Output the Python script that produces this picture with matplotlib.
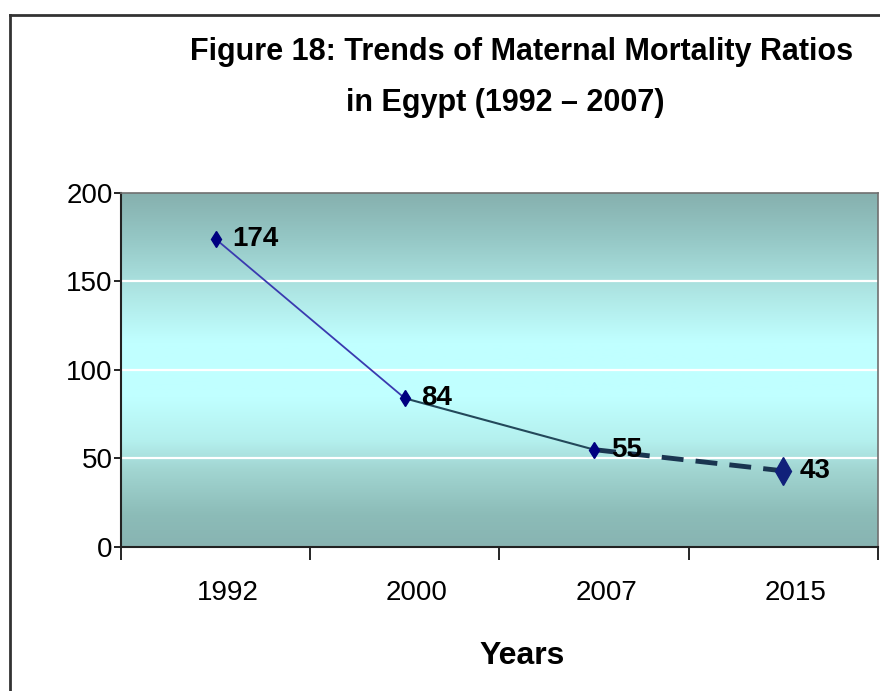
import numpy as np
import matplotlib
matplotlib.use('Agg')
import matplotlib.pyplot as plt
from matplotlib.colors import LinearSegmentedColormap
from matplotlib.lines import Line2D
import matplotlib.transforms as mtransforms

plt.rcParams['font.family'] = ['Liberation Sans', 'DejaVu Sans']

years = ['1992', '2000', '2007', '2015']
mmr = [174, 84, 55, 43]
yticks = [0, 50, 100, 150, 200]

fig = plt.figure(figsize=(8.8, 6.91), dpi=100)
ax = fig.add_axes([0.1375, 0.2084, 0.8602, 0.5123])

# background gradient (bottom -> top)
cmap = LinearSegmentedColormap.from_list('bg', [
    (0.00, '#88b4b2'), (0.09, '#8cbcb8'), (0.22, '#a2d6d2'),
    (0.30, '#b4f0ee'), (0.42, '#c0ffff'), (0.58, '#c0ffff'),
    (0.72, '#aee6e4'), (0.88, '#94c6c4'), (1.00, '#86b0ae')])
grad = np.linspace(0, 1, 256).reshape(-1, 1)
ax.imshow(grad, cmap=cmap, aspect='auto', origin='lower',
          extent=[-0.5, 3.5, 0, 200], zorder=0)

ax.set_xlim(-0.5, 3.5)
ax.set_ylim(0, 200)
ax.set_yticks(yticks)
for yv in [50, 100, 150]:
    ax.axhline(yv, color='white', lw=1.6, zorder=1)

x = np.arange(len(years))
ax.plot(x[:2], mmr[:2], color='#3a3ab0', lw=1.3, zorder=2)
ax.plot(x[1:3], mmr[1:3], color='#23485a', lw=1.5, zorder=2)
ax.plot(x[2:], mmr[2:], color='#1a3550', lw=3.5, dashes=(4.5, 2.5), zorder=2)
ax.plot(x[:3], mmr[:3], ls='none', marker='d', ms=8, color='#000080', zorder=3)
ax.plot(x[3:], mmr[3:], ls='none', marker='d', ms=14, color='#10207a', zorder=3)

for xi, v in zip(x, mmr):
    ax.annotate(str(v), (xi, v), xytext=(12, 0), textcoords='offset points',
                ha='left', va='center', fontsize=20, fontweight='bold', zorder=4)

ax.set_xticks(x)
ax.set_xticklabels(years)
ax.set_xticks(np.arange(-0.5, 4, 1), minor=True)
ax.tick_params(axis='x', which='major', length=0, pad=24, labelsize=20)
ax.tick_params(axis='x', which='minor', length=9, width=1.2, direction='out')
ax.tick_params(axis='y', length=5, width=1.2, pad=1, labelsize=20)
shift = mtransforms.ScaledTranslation(12 / 100, 0, fig.dpi_scale_trans)
for lab in ax.get_xticklabels():
    lab.set_transform(lab.get_transform() + shift)

for s in ['left', 'bottom']:
    ax.spines[s].set_linewidth(1.5)
    ax.spines[s].set_color('#222222')
for s in ['top', 'right']:
    ax.spines[s].set_linewidth(1.2)
    ax.spines[s].set_color('#707070')

ax.set_xlabel('Years', fontsize=23, fontweight='bold')
ax.xaxis.set_label_coords(0.53, -0.265)

fig.text(522 / 880, 1 - 52 / 691, 'Figure 18: Trends of Maternal Mortality Ratios',
         ha='center', va='center', fontsize=22, fontweight='bold')
fig.text(505 / 880, 1 - 103 / 691, 'in Egypt (1992 \u2013 2007)',
         ha='center', va='center', fontsize=22, fontweight='bold')

# chart frame (left and top edges)
fig.add_artist(Line2D([10 / 880, 10 / 880], [0, 1 - 15 / 691], color='#333333', lw=2))
fig.add_artist(Line2D([10 / 880, 1], [1 - 15 / 691, 1 - 15 / 691], color='#333333', lw=2))

plt.savefig('out.png', dpi=100)
